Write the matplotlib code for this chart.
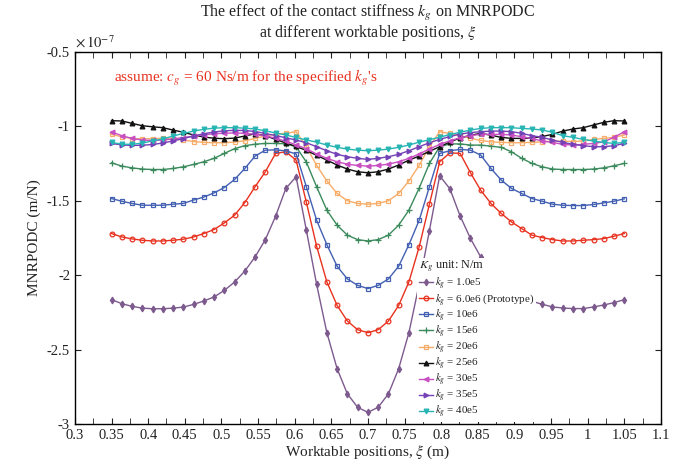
import matplotlib

matplotlib.use("Agg")
import matplotlib.pyplot as plt
import numpy as np
from matplotlib.ticker import MultipleLocator

# worktable positions xi (m), 51 samples 0.35 .. 1.05
XI = np.linspace(0.35, 1.05, 51)

# MNRPODC (x 1e-7 m/N) for each contact stiffness k_g
K_1E5 = [-2.164, -2.191, -2.209, -2.221, -2.225, -2.225, -2.221, -2.214, -2.196, -2.173,
         -2.146, -2.102, -2.046, -1.972, -1.877, -1.761, -1.604, -1.417, -1.339, -1.698,
         -2.061, -2.386, -2.628, -2.797, -2.887, -2.921, -2.887, -2.797, -2.628, -2.386,
         -2.061, -1.700, -1.332, -1.420, -1.603, -1.753, -1.877, -1.966, -2.045, -2.100,
         -2.142, -2.175, -2.195, -2.213, -2.220, -2.224, -2.224, -2.213, -2.200, -2.184,
         -2.164]
K_6E6 = [-1.720, -1.743, -1.756, -1.765, -1.770, -1.770, -1.765, -1.758, -1.743, -1.720,
         -1.693, -1.649, -1.597, -1.512, -1.406, -1.305, -1.182, -1.171, -1.227, -1.510,
         -1.805, -2.045, -2.203, -2.308, -2.366, -2.386, -2.366, -2.308, -2.203, -2.045,
         -1.810, -1.523, -1.238, -1.178, -1.182, -1.312, -1.429, -1.518, -1.585, -1.642,
         -1.687, -1.731, -1.747, -1.761, -1.770, -1.770, -1.765, -1.761, -1.754, -1.738,
         -1.720]
K_10E6 = [-1.485, -1.503, -1.518, -1.530, -1.530, -1.530, -1.523, -1.518, -1.495, -1.475,
          -1.447, -1.411, -1.357, -1.283, -1.200, -1.160, -1.158, -1.165, -1.185, -1.406,
          -1.631, -1.795, -1.940, -2.025, -2.068, -2.090, -2.068, -2.025, -1.940, -1.795,
          -1.631, -1.406, -1.182, -1.164, -1.155, -1.160, -1.193, -1.283, -1.361, -1.417,
          -1.451, -1.485, -1.503, -1.523, -1.530, -1.532, -1.532, -1.525, -1.514, -1.503,
          -1.487]
K_15E6 = [-1.245, -1.267, -1.279, -1.287, -1.290, -1.290, -1.283, -1.272, -1.256, -1.238,
          -1.215, -1.182, -1.150, -1.130, -1.120, -1.115, -1.115, -1.117, -1.137, -1.240,
          -1.406, -1.563, -1.664, -1.731, -1.761, -1.770, -1.761, -1.731, -1.664, -1.563,
          -1.415, -1.249, -1.137, -1.118, -1.118, -1.126, -1.126, -1.133, -1.141, -1.171,
          -1.215, -1.249, -1.272, -1.287, -1.290, -1.290, -1.290, -1.287, -1.279, -1.265,
          -1.249]
K_20E6 = [-1.054, -1.070, -1.082, -1.085, -1.082, -1.081, -1.085, -1.092, -1.102, -1.108,
          -1.110, -1.110, -1.106, -1.097, -1.081, -1.065, -1.052, -1.047, -1.036, -1.137,
          -1.262, -1.367, -1.451, -1.500, -1.518, -1.523, -1.518, -1.500, -1.451, -1.367,
          -1.262, -1.137, -1.036, -1.048, -1.062, -1.080, -1.095, -1.104, -1.108, -1.110,
          -1.110, -1.108, -1.104, -1.099, -1.100, -1.102, -1.098, -1.088, -1.081, -1.074,
          -1.058]
K_25E6 = [-0.962, -0.964, -0.980, -0.996, -1.003, -1.009, -1.025, -1.040, -1.058, -1.072,
          -1.080, -1.083, -1.079, -1.065, -1.050, -1.063, -1.088, -1.112, -1.135, -1.162,
          -1.195, -1.227, -1.260, -1.287, -1.305, -1.312, -1.305, -1.287, -1.260, -1.227,
          -1.200, -1.168, -1.137, -1.105, -1.078, -1.060, -1.047, -1.060, -1.074, -1.081,
          -1.081, -1.078, -1.068, -1.054, -1.032, -1.018, -1.009, -0.991, -0.973, -0.962,
          -0.964]
K_30E5 = [-1.036, -1.063, -1.081, -1.092, -1.095, -1.092, -1.085, -1.076, -1.066, -1.057,
          -1.050, -1.046, -1.045, -1.047, -1.053, -1.064, -1.080, -1.100, -1.125, -1.150,
          -1.186, -1.215, -1.238, -1.254, -1.263, -1.267, -1.263, -1.254, -1.238, -1.215,
          -1.186, -1.152, -1.122, -1.097, -1.077, -1.062, -1.054, -1.054, -1.054, -1.058,
          -1.070, -1.081, -1.099, -1.108, -1.121, -1.126, -1.121, -1.115, -1.104, -1.074,
          -1.036]
K_35E5 = [-1.115, -1.125, -1.128, -1.127, -1.122, -1.112, -1.098, -1.082, -1.065, -1.050,
          -1.038, -1.030, -1.027, -1.028, -1.035, -1.048, -1.062, -1.077, -1.092, -1.110,
          -1.137, -1.164, -1.188, -1.204, -1.215, -1.222, -1.215, -1.204, -1.188, -1.164,
          -1.137, -1.110, -1.088, -1.068, -1.052, -1.042, -1.036, -1.032, -1.032, -1.036,
          -1.047, -1.063, -1.074, -1.092, -1.108, -1.121, -1.130, -1.137, -1.137, -1.130,
          -1.115]
K_40E5 = [-1.108, -1.120, -1.121, -1.112, -1.098, -1.085, -1.065, -1.048, -1.032, -1.020,
          -1.012, -1.009, -1.009, -1.012, -1.018, -1.030, -1.045, -1.058, -1.075, -1.092,
          -1.106, -1.126, -1.141, -1.153, -1.160, -1.164, -1.160, -1.153, -1.141, -1.126,
          -1.106, -1.090, -1.073, -1.055, -1.040, -1.025, -1.014, -1.009, -1.009, -1.009,
          -1.014, -1.018, -1.025, -1.040, -1.063, -1.074, -1.088, -1.099, -1.108, -1.115,
          -1.108]

LABELS = ["1.0e5", "6.0e6 (Prototype)", "10e6", "15e6", "20e6", "25e6", "30e5", "35e5", "40e5"]
SERIES = [K_1E5, K_6E6, K_10E6, K_15E6, K_20E6, K_25E6, K_30E5, K_35E5, K_40E5]

# colour, marker, filled marker?
STYLES = [
    ("#7d5a8e", "d", True),
    ("#e8321f", "o", False),
    ("#4360b2", "s", False),
    ("#3a8a5c", "+", True),
    ("#f7ad6a", "s", False),
    ("#111111", "^", True),
    ("#c84fc2", "<", True),
    ("#7442b6", ">", True),
    ("#27b5b4", "v", True),
]


def style():
    plt.rcParams.update(
        {
            "font.family": ["Liberation Serif", "DejaVu Serif"],
            "mathtext.fontset": "stix",
            "font.size": 10,
            "text.color": "#222222",
            "axes.labelcolor": "#222222",
            "xtick.color": "#222222",
            "ytick.color": "#222222",
        }
    )


def main():
    style()
    fig = plt.figure(figsize=(6.87, 4.76), dpi=100)
    ax = fig.add_axes([0.109, 0.109, 0.853, 0.782])

    for vals, lab, (col, mk, filled) in zip(SERIES, LABELS, STYLES):
        ax.plot(
            XI, vals, color=col, lw=1.0, marker=mk,
            ms=3.4 if mk != "+" else 4.5,
            mfc=col if filled else "none", mec=col, mew=0.9,
            label=f"$k_g$ = {lab}",
        )

    ax.set_xlim(0.3, 1.1)
    ax.set_ylim(-3.0, -0.5)
    ax.xaxis.set_major_locator(MultipleLocator(0.05))
    ax.xaxis.set_minor_locator(MultipleLocator(0.025))
    ax.yaxis.set_major_locator(MultipleLocator(0.5))
    ax.xaxis.set_major_formatter(plt.FuncFormatter(lambda v, p: f"{v:g}"))
    ax.yaxis.set_major_formatter(plt.FuncFormatter(lambda v, p: f"{v:g}"))
    ax.tick_params(which="both", direction="in", top=True, right=True, length=4, labelsize=10.5)
    for s in ax.spines.values():
        s.set_linewidth(1.0)

    ax.set_xlabel(r"Worktable positions, $\xi$ (m)", fontsize=11, labelpad=1)
    ax.set_ylabel("MNRPODC (m/N)", fontsize=11, labelpad=4)
    ax.text(0.0, 1.004, r"$\times\,10^{-7}$", transform=ax.transAxes, ha="left", va="bottom", fontsize=10.5)

    fig.text(0.535, 1 - 13 / 476, r"The effect of the contact stiffness $k_g$ on MNRPODC",
             ha="center", va="center", fontsize=11.5)
    fig.text(0.535, 1 - 33 / 476, r"at different worktable positions, $\xi$",
             ha="center", va="center", fontsize=11.5)

    ax.text(0.353, -0.675, r"assume: $c_g$ = 60 Ns/m for the specified $k_g$'s",
            color="#e8321f", fontsize=11, ha="left", va="center")

    leg = ax.legend(
        loc="lower left", bbox_to_anchor=(0.58, 0.0), fontsize=7.9,
        title=r"$K_g$ unit: N/m", title_fontsize=8.8, frameon=True,
        facecolor="white", edgecolor="none", framealpha=1.0,
        handlelength=1.3, handletextpad=0.15, labelspacing=0.0,
        borderpad=0.15, borderaxespad=0.2,
    )
    leg._legend_box.align = "left"

    fig.savefig("out.png", dpi=100)
    plt.close(fig)


if __name__ == "__main__":
    main()
